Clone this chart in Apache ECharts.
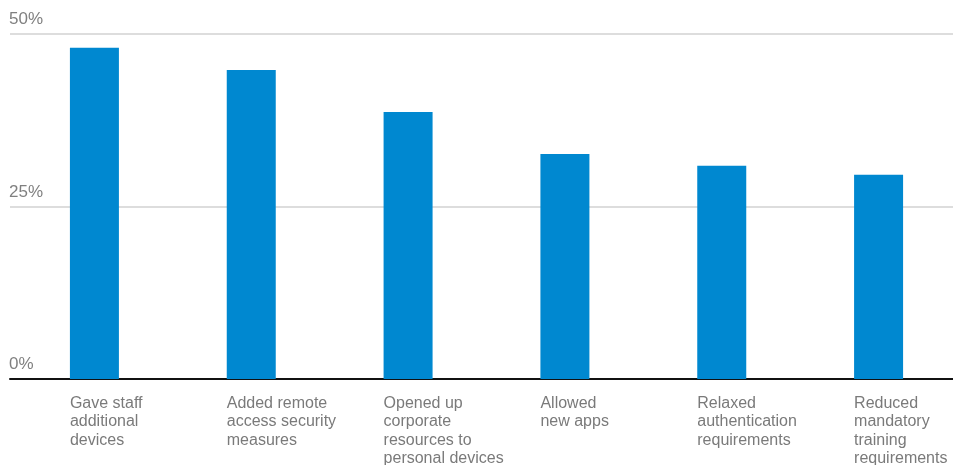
<!DOCTYPE html>
<html>
<head>
<meta charset="utf-8">
<script src="https://cdn.jsdelivr.net/npm/echarts@6/dist/echarts.min.js"></script>
<style>
html,body{margin:0;padding:0;background:#fff;}
#chart{width:953px;height:465px;}
</style>
</head>
<body>
<div id="chart"></div>
<script>
const categories = [
  "Gave staff\nadditional\ndevices",
  "Added remote\naccess security\nmeasures",
  "Opened up\ncorporate\nresources to\npersonal devices",
  "Allowed\nnew apps",
  "Relaxed\nauthentication\nrequirements",
  "Reduced\nmandatory\ntraining\nrequirements"
];
const values = [48.0, 44.8, 38.7, 32.6, 30.9, 29.6];
const yTicks = [0, 25, 50];

const font = '"Liberation Sans", Arial, Helvetica, sans-serif';
const chart = echarts.init(document.getElementById('chart'), null, {renderer: 'canvas'});
chart.setOption({
  animation: false,
  backgroundColor: '#ffffff',
  grid: [
    {left: 10, right: 0, top: 34, bottom: 86, outerBoundsMode: 'none', containLabel: false},
    {left: 16, width: 941, top: 34, bottom: 86, outerBoundsMode: 'none', containLabel: false}
  ],
  xAxis: [
    {
      type: 'category', gridIndex: 0, data: categories,
      axisLine: {show: true, lineStyle: {color: '#111111', width: 2}},
      axisTick: {show: false}, axisLabel: {show: false}, splitLine: {show: false}
    },
    {
      type: 'category', gridIndex: 1, data: categories,
      axisLine: {show: false}, axisTick: {show: false},
      axisLabel: {
        interval: 0, align: 'left', margin: 15, padding: [0, 0, 0, -24.5],
        color: '#7a7a7a', fontFamily: font, fontSize: 16, lineHeight: 18.5,
        verticalAlign: 'top'
      }
    }
  ],
  yAxis: [
    {
      type: 'value', gridIndex: 0, min: yTicks[0], max: yTicks[yTicks.length - 1], interval: 25,
      axisLine: {show: false}, axisTick: {show: false},
      splitLine: {lineStyle: {color: '#dddddd', width: 2}},
      axisLabel: {
        inside: true, margin: -1, align: 'left', verticalAlign: 'bottom',
        padding: [0, 0, 6, 0],
        color: '#808080', fontFamily: font, fontSize: 17,
        formatter: v => v + '%'
      }
    },
    {
      type: 'value', gridIndex: 1, min: 0, max: 50, show: false
    }
  ],
  series: [{
    type: 'bar', xAxisIndex: 1, yAxisIndex: 1,
    data: values, barWidth: 49,
    itemStyle: {color: '#0088d0'}
  }]
});
</script>
</body>
</html>
